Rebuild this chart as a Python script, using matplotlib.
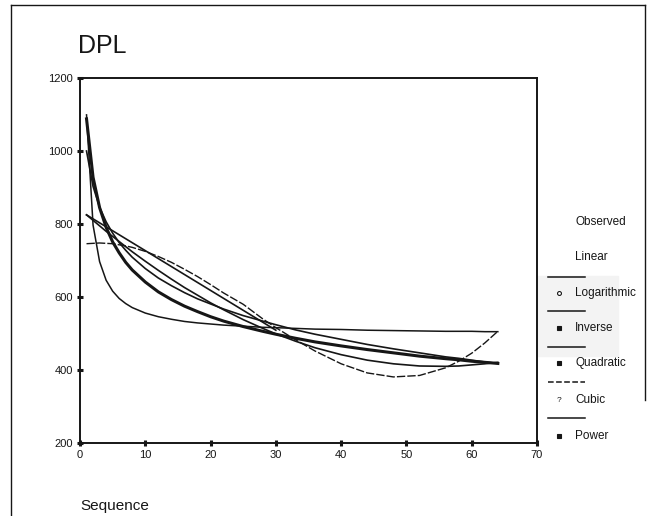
import matplotlib
matplotlib.use("Agg")
import matplotlib.pyplot as plt
from matplotlib.lines import Line2D

plt.rcParams['font.family'] = ['Liberation Sans', 'DejaVu Sans']

W, H = 656, 516

# values
seq = [1, 2, 3, 4, 5, 6, 7, 8, 10, 12, 14, 16, 18, 20, 22, 25, 28, 30, 33,
       36, 40, 44, 48, 52, 56, 58, 60, 62, 64]
inverse = [1099, 797, 697, 646, 616, 596, 582, 571, 556, 546, 539, 533, 529,
           526, 523, 520, 517, 516, 514, 512, 511, 509, 508, 507, 506, 506,
           506, 505, 505]
power = [1088, 928, 845, 791, 751, 721, 695, 674, 641, 614, 593, 575, 560,
         546, 534, 519, 506, 498, 487, 477, 466, 456, 447, 438, 431, 428,
         424, 421, 418]
logarithmic = [1000, 903, 846, 806, 775, 749, 728, 709, 678, 652, 631, 612,
               595, 581, 567, 549, 534, 524, 510, 498, 484, 470, 458, 447,
               436, 432, 427, 422, 418]
quadratic = [825, 810, 795, 780, 766, 752, 738, 724, 698, 673, 649, 626, 605,
             584, 565, 538, 514, 499, 479, 461, 442, 427, 417, 411, 410, 411,
             414, 417, 421]
cubic = [746, 747, 748, 747, 746, 743, 740, 736, 725, 711, 695, 676, 656,
         634, 611, 580, 540, 516, 483, 452, 417, 392, 381, 385, 406, 424,
         446, 474, 506]
# the linear fit only survives in the scan up to the crossing point
lin_seq = [1, 10, 20, 30]
linear = [825, 727, 618, 509]

legend_labels = ['Observed', 'Linear', 'Logarithmic', 'Inverse',
                 'Quadratic', 'Cubic', 'Power']

fig = plt.figure(figsize=(W / 100, H / 100), dpi=100)
ax = fig.add_axes([80 / W, 1 - 443 / H, (537 - 80) / W, (443 - 78) / H])

ink = '#161616'
ax.plot(seq, inverse, color=ink, lw=1.1)
ax.plot(seq, power, color=ink, lw=2.2)
ax.plot(seq, logarithmic, color=ink, lw=1.2)
ax.plot(seq, quadratic, color=ink, lw=1.2)
ax.plot(seq, cubic, color=ink, lw=1.0, ls=(0, (6, 1.5)))
ax.plot(lin_seq, linear, color=ink, lw=1.2)

ax.set_xlim(0, 70)
ax.set_ylim(200, 1200)
ax.set_xticks(range(0, 71, 10))
ax.set_yticks(range(200, 1201, 200))
ax.tick_params(direction='inout', length=4, width=2.2, labelsize=8,
               colors=ink, pad=3)
for s in ax.spines.values():
    s.set_linewidth(1.4)
    s.set_color(ink)

# faint scan band
fig.patches.append(plt.Rectangle((190 / W, 1 - 356 / H), (618 - 190) / W, 80 / H,
                                 transform=fig.transFigure, color='#f3f3f3',
                                 zorder=-5))

fig.text(78 / W, 1 - 53 / H, 'DPL', fontsize=18, color=ink)
fig.text(80 / W, 1 - 510 / H, 'Sequence', fontsize=11, color=ink)

# legend drawn as in the scan: labels with short rules between them
rows = [222, 257, 293, 328, 363, 400, 436]
for lab, yy in zip(legend_labels, rows):
    fig.text(575 / W, 1 - yy / H, lab, fontsize=8.5, color=ink, va='center')
marks = {'Logarithmic': 'o', 'Inverse': 's', 'Quadratic': 's', 'Power': 's'}
for lab, yy in zip(legend_labels, rows):
    if lab in marks:
        fig.add_artist(Line2D([559 / W], [1 - yy / H], marker=marks[lab],
                              ms=2.8, mfc='white' if marks[lab] == 'o' else ink,
                              mec=ink, mew=0.8, ls='none'))
    elif lab == 'Cubic':
        fig.text(559 / W, 1 - yy / H, '?', fontsize=6, color=ink,
                 ha='center', va='center')
rules = [(277, '-'), (311, '-'), (347, '-'), (382, '--'), (418, '-')]
for yy, st in rules:
    fig.add_artist(Line2D([548 / W, 585 / W], [1 - yy / H] * 2, color=ink,
                          lw=1.1, ls=st))

# page border from the scan
fig.add_artist(Line2D([11 / W, 11 / W], [0, 1 - 5 / H], color=ink, lw=1.0))
fig.add_artist(Line2D([11 / W, 645 / W], [1 - 5 / H] * 2, color=ink, lw=1.0))
fig.add_artist(Line2D([645 / W, 645 / W], [1 - 5 / H, 1 - 400 / H],
                      color=ink, lw=1.0))

fig.savefig('out.png', dpi=100)
